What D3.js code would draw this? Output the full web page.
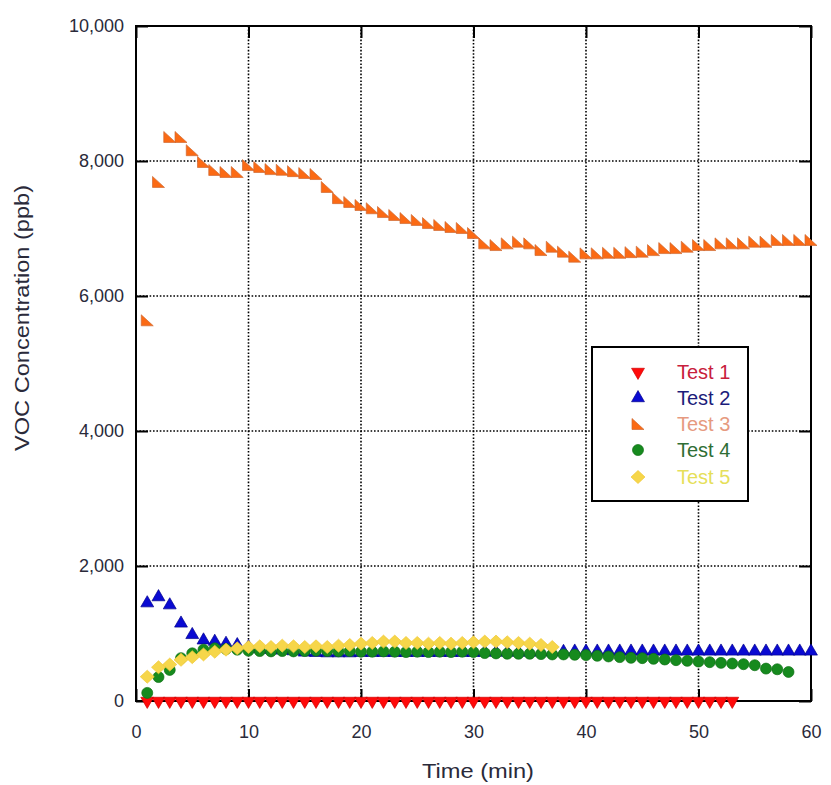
<!DOCTYPE html>
<html>
<head>
<meta charset="utf-8">
<script src="https://cdn.jsdelivr.net/npm/d3@7"></script>
<style>
  html, body { margin: 0; padding: 0; background: #fff; }
  svg { display: block; font-family: "Liberation Sans", Arial, sans-serif; }
</style>
</head>
<body>
<svg id="chart" width="831" height="785"></svg>
<script>
// ---------- data ----------
const times = [1,2,3,4,5,6,7,8,9,10,11,12,13,14,15,16,17,18,19,20,
  21,22,23,24,25,26,27,28,29,30,31,32,33,34,35,36,37,38,39,40,
  41,42,43,44,45,46,47,48,49,50,51,52,53,54,55,56,57,58,59,60];

const seriesNames = ["Test 1", "Test 2", "Test 3", "Test 4", "Test 5"];

const test1 = [0,0,0,0,0,0,0,0,0,0, 0,0,0,0,0,0,0,0,0,0, 0,0,0,0,0,0,0,0,0,0,
  0,0,0,0,0,0,0,0,0,0, 0,0,0,0,0,0,0,0,0,0, 0,0,0];

const test2 = [1450,1540,1420,1150,980,900,880,850,830,800,
  770,760,750,740,720,715,710,710,710,715,
  715,715,715,715,715,715,715,715,715,715,
  720,720,720,720,720,725,725,730,735,735,
  735,735,735,735,735,735,735,735,735,735,
  735,735,735,735,735,735,735,735,735,735];

const test3 = [5640,7690,8356,8356,8160,7985,7867,7837,7837,7940,
  7911,7880,7870,7850,7822,7807,7615,7450,7393,7348,
  7300,7244,7200,7155,7126,7081,7052,7022,7007,6933,
  6780,6755,6780,6805,6780,6681,6730,6657,6583,6632,
  6632,6640,6640,6650,6657,6680,6710,6710,6730,6755,
  6755,6780,6780,6780,6805,6805,6830,6830,6830,6830];

const test4 = [120,355,460,635,706,760,780,770,760,745,
  740,735,740,735,740,745,740,735,740,730,
  730,735,730,725,730,725,730,725,730,725,
  710,705,700,700,700,695,690,690,685,680,
  670,660,650,640,635,625,615,605,595,585,
  575,565,555,545,530,480,470,430];

const test5 = [360,500,540,610,650,690,730,760,780,800,
  810,800,820,810,800,810,800,820,830,850,
  860,880,880,860,860,850,860,850,860,870,
  880,880,870,860,850,830,800];

const xTicks = [0,10,20,30,40,50,60];
const yTicks = [0,2000,4000,6000,8000,10000];

// ---------- layout ----------
const svg = d3.select("#chart");
const L = 136, R = 811, T = 26, B = 701;
const x = d3.scaleLinear().domain([0, 60]).range([L, R]);
const y = d3.scaleLinear().domain([0, 10000]).range([B, T]);

// grid (dotted)
const grid = svg.append("g");
grid.selectAll("line.gx").data(xTicks.slice(1, -1)).join("line")
  .attr("x1", d => x(d)).attr("x2", d => x(d)).attr("y1", T).attr("y2", B)
  .attr("stroke", "#000").attr("stroke-width", 1.6).attr("stroke-dasharray", "1.6,1.8");
grid.selectAll("line.gy").data(yTicks.slice(1, -1)).join("line")
  .attr("y1", d => y(d)).attr("y2", d => y(d)).attr("x1", L).attr("x2", R)
  .attr("stroke", "#000").attr("stroke-width", 1.6).attr("stroke-dasharray", "1.6,1.8");

// axes with inward ticks
const fmt = d3.format(",");
const axL = svg.append("g").attr("transform", `translate(${L},0)`)
  .call(d3.axisLeft(y).tickValues(yTicks).tickFormat(fmt).tickSizeInner(-12).tickSizeOuter(0).tickPadding(12));
const axR = svg.append("g").attr("transform", `translate(${R},0)`)
  .call(d3.axisRight(y).tickValues(yTicks).tickFormat("").tickSizeInner(-12).tickSizeOuter(0));
const axB = svg.append("g").attr("transform", `translate(0,${B})`)
  .call(d3.axisBottom(x).tickValues(xTicks).tickFormat(d3.format("d")).tickSizeInner(-12).tickSizeOuter(0).tickPadding(24));
const axT = svg.append("g").attr("transform", `translate(0,${T})`)
  .call(d3.axisTop(x).tickValues(xTicks).tickFormat("").tickSizeInner(-12).tickSizeOuter(0));
[axL, axR, axB, axT].forEach(a => {
  a.select(".domain").remove();
  a.selectAll(".tick line").attr("stroke", "#000").attr("stroke-width", 2);
  a.selectAll("text").attr("fill", "#2a2a3a").attr("font-size", 18)
    .attr("font-family", "'Liberation Sans', Arial, sans-serif");
});

// frame
svg.append("rect").attr("x", L).attr("y", T).attr("width", R - L).attr("height", B - T)
  .attr("fill", "none").attr("stroke", "#000").attr("stroke-width", 2);

// axis titles
svg.append("text").attr("x", 478).attr("y", 778).attr("text-anchor", "middle")
  .attr("font-size", 20).attr("fill", "#2a2a3a")
  .attr("textLength", 112).attr("lengthAdjust", "spacingAndGlyphs")
  .text("Time (min)");
svg.append("text").attr("transform", "translate(29,318) rotate(-90)").attr("text-anchor", "middle")
  .attr("font-size", 20).attr("fill", "#2a2a3a")
  .attr("textLength", 266).attr("lengthAdjust", "spacingAndGlyphs")
  .text("VOC Concentration (ppb)");

// ---------- markers ----------
const triUp = d3.symbol().type(d3.symbolTriangle).size(72)();
const circle = d3.symbol().type(d3.symbolCircle).size(95)();
const diamond = "M0,-6.5L7,0L0,6.5L-7,0Z";
const rightTri = "M-6,-5.5L-6,5.5L6,5.5Z";

const styles = [
  { name: seriesNames[0], data: test1, path: triUp, rot: 180, fill: "#ff0a0a", stroke: "#d00000", text: "#c8203c" },
  { name: seriesNames[1], data: test2, path: triUp, rot: 0,   fill: "#0a0ad2", stroke: "#00008c", text: "#1c1c7a" },
  { name: seriesNames[2], data: test3, path: rightTri, rot: 0, fill: "#fb6a14", stroke: "#cf6a34", text: "#e69a80" },
  { name: seriesNames[3], data: test4, path: circle, rot: 0,  fill: "#168a1e", stroke: "#0e7014", text: "#2f6e35" },
  { name: seriesNames[4], data: test5, path: diamond, rot: 0, fill: "#f6d64a", stroke: "#f0c83a", text: "#e6df5a" }
];

styles.forEach(s => {
  svg.append("g").selectAll("path").data(s.data).join("path")
    .attr("d", s.path)
    .attr("transform", (d, i) => `translate(${x(times[i])},${y(d)}) rotate(${s.rot})`)
    .attr("fill", s.fill).attr("stroke", s.stroke).attr("stroke-width", 0.7);
});

// ---------- legend ----------
const lg = svg.append("g");
lg.append("rect").attr("x", 592).attr("y", 347).attr("width", 156).attr("height", 154)
  .attr("fill", "#fff").attr("stroke", "#000").attr("stroke-width", 2);
const rowY = [372, 398, 424, 450, 477];
styles.forEach((s, i) => {
  lg.append("path").attr("d", s.path)
    .attr("transform", `translate(638,${rowY[i]}) rotate(${s.rot})`)
    .attr("fill", s.fill).attr("stroke", s.stroke).attr("stroke-width", 0.7);
  lg.append("text").attr("x", 677).attr("y", rowY[i] + 7)
    .attr("font-size", 20).attr("fill", s.text).text(s.name);
});
</script>
</body>
</html>
